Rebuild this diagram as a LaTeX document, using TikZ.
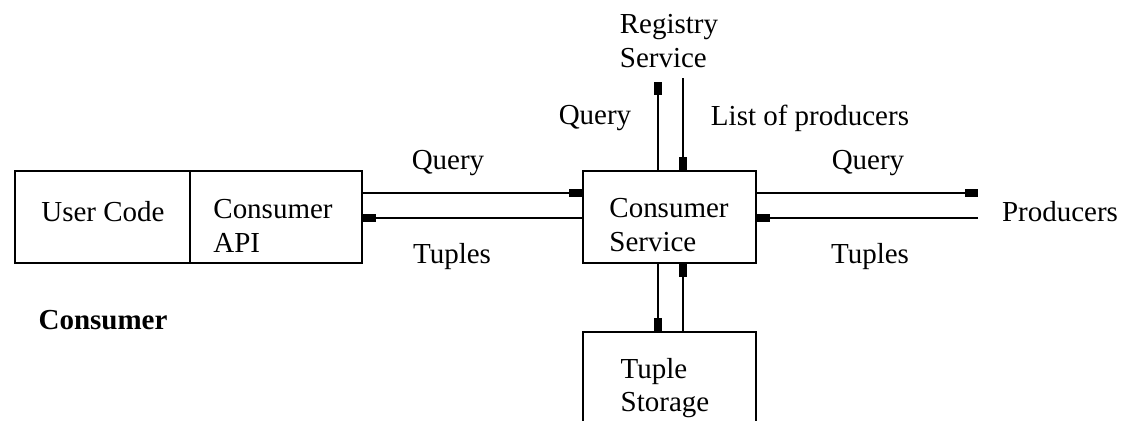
\documentclass[tikz,border=0pt]{standalone}
\usepackage{fontspec}
\setmainfont{Liberation Serif}
\usetikzlibrary{arrows.meta}
\begin{document}
\begin{tikzpicture}[x=0.02cm,y=-0.02cm,
  every node/.style={font=\fontsize{16.5}{19}\selectfont, inner sep=0pt},
  box/.style={draw, line width=1pt},
  arr/.style={line width=1pt, -{Rectangle[length=7.5pt,width=5pt]}},
  lbl/.style={align=left}]
\useasboundingbox (0,0) rectangle (1122,420);
\clip (0,0) rectangle (1122,420);
% boxes
\node[box, minimum width=6.94cm, minimum height=1.84cm] (lb) at (188.5,217) {};
\draw[line width=1pt] (190,0 |- lb.north) -- (190,0 |- lb.south);
\node[box, minimum width=3.46cm, minimum height=1.84cm] (cs) at (669.5,217) {};
\node[box, minimum width=3.46cm, minimum height=2.2cm] (ts) at (669.5,387) {};
% texts
\node (uc) at (103,212) {User Code};
\node[lbl] (api) at (273,226) {Consumer\\API};
\node[lbl] (cst) at (669,225) {Consumer\\Service};
\node[lbl] (tst) at (665,388) {Tuple\\Storage};
\node[lbl] (reg) at (669,41) {Registry\\Service};
\node (prod) at (1060,212) {Producers};
\node[font=\fontsize{16.5}{19}\selectfont\bfseries] (cons) at (103,320) {Consumer};
% arrows top
\draw[arr] (cs.north -| 658,0) -- (658,82);
\draw[arr] (683,78) -- (cs.north -| 683,0);
\node (q1) at (595,118) {Query};
\node (lp) at (810,118) {List of producers};
% left
\draw[arr] (lb.east |- 0,193) -- (cs.west |- 0,193);
\draw[arr] (cs.west |- 0,218) -- (lb.east |- 0,218);
\node (q2) at (448,163) {Query};
\node (t2) at (452,257) {Tuples};
% right
\draw[arr] (cs.east |- 0,193) -- (978,193);
\draw[arr] (978,218) -- (cs.east |- 0,218);
\node (q3) at (868,163) {Query};
\node (t3) at (870,257) {Tuples};
% bottom
\draw[arr] (cs.south -| 658,0) -- (ts.north -| 658,0);
\draw[arr] (ts.north -| 683,0) -- (cs.south -| 683,0);
\end{tikzpicture}
\end{document}
